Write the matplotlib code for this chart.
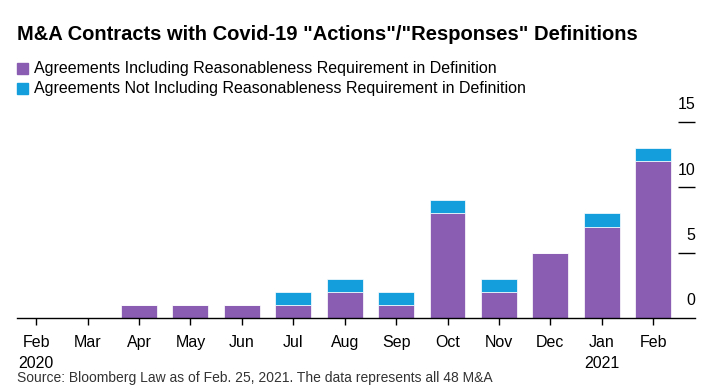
import matplotlib.pyplot as plt
from matplotlib.patches import Rectangle
import matplotlib.transforms as mtransforms

plt.rcParams['font.family'] = ['Liberation Sans', 'DejaVu Sans']

# Data
months = ['Feb\n2020', 'Mar', 'Apr', 'May', 'Jun', 'Jul', 'Aug', 'Sep', 'Oct',
          'Nov', 'Dec', 'Jan\n2021', 'Feb']
with_req = [0, 0, 1, 1, 1, 1, 2, 1, 8, 2, 5, 7, 12]
without_req = [0, 0, 0, 0, 0, 1, 1, 1, 1, 1, 0, 1, 1]
y_ticks = [0, 5, 10, 15]

purple = '#8a5cb2'
blue = '#149fdc'

fig = plt.figure(figsize=(7.19, 3.87), dpi=100)
ax = fig.add_axes([0.024, 0.178, 0.943, 0.507])

x = list(range(len(months)))
ax.bar(x, with_req, width=0.7, color=purple, edgecolor='white', linewidth=0.5)
ax.bar(x, without_req, width=0.7, bottom=with_req, color=blue,
       edgecolor='white', linewidth=0.5)

ax.set_xlim(-0.37, 12.82)
ax.set_ylim(0, 15)

for s in ['top', 'left', 'right']:
    ax.spines[s].set_visible(False)
ax.spines['bottom'].set_linewidth(1)

ax.set_xticks(x)
ax.set_xticklabels(months, fontsize=11.5, linespacing=1.5)
ax.tick_params(axis='x', length=5, width=1, pad=7)

# y ticks on the right, drawn inside, labels above tick lines
ax.yaxis.tick_right()
ax.set_yticks(y_ticks)
ax.set_yticklabels([])
ax.tick_params(axis='y', direction='in', length=12.5, width=1, right=True)
ax.yaxis.get_major_ticks()[0].tick2line.set_visible(False)
offset = mtransforms.offset_copy(ax.get_yaxis_transform(), fig=fig, x=0, y=7, units='points')
for t in y_ticks:
    ax.text(1.0, t, str(t), transform=offset, ha='right', va='bottom', fontsize=11.5)

# Title and legend
fig.text(0.024, 0.912, 'M&A Contracts with Covid-19 "Actions"/"Responses" Definitions',
         fontsize=14.5, fontweight='bold', va='center')
labels = ['Agreements Including Reasonableness Requirement in Definition',
          'Agreements Not Including Reasonableness Requirement in Definition']
for i, (lab, c) in enumerate(zip(labels, [purple, blue])):
    yy = 0.824 - i * 0.052
    fig.patches.append(Rectangle((0.024, yy - 0.014), 0.0145, 0.028,
                                 transform=fig.transFigure, color=c))
    fig.text(0.047, yy, lab, fontsize=11.5, va='center')

# Source line (cut off at the bottom in the original; kept fully visible here)
fig.text(0.024, 0.022, 'Source: Bloomberg Law as of Feb. 25, 2021. The data represents all 48 M&A',
         fontsize=10, va='center', color='#333333')

fig.savefig('out.png', dpi=100)
